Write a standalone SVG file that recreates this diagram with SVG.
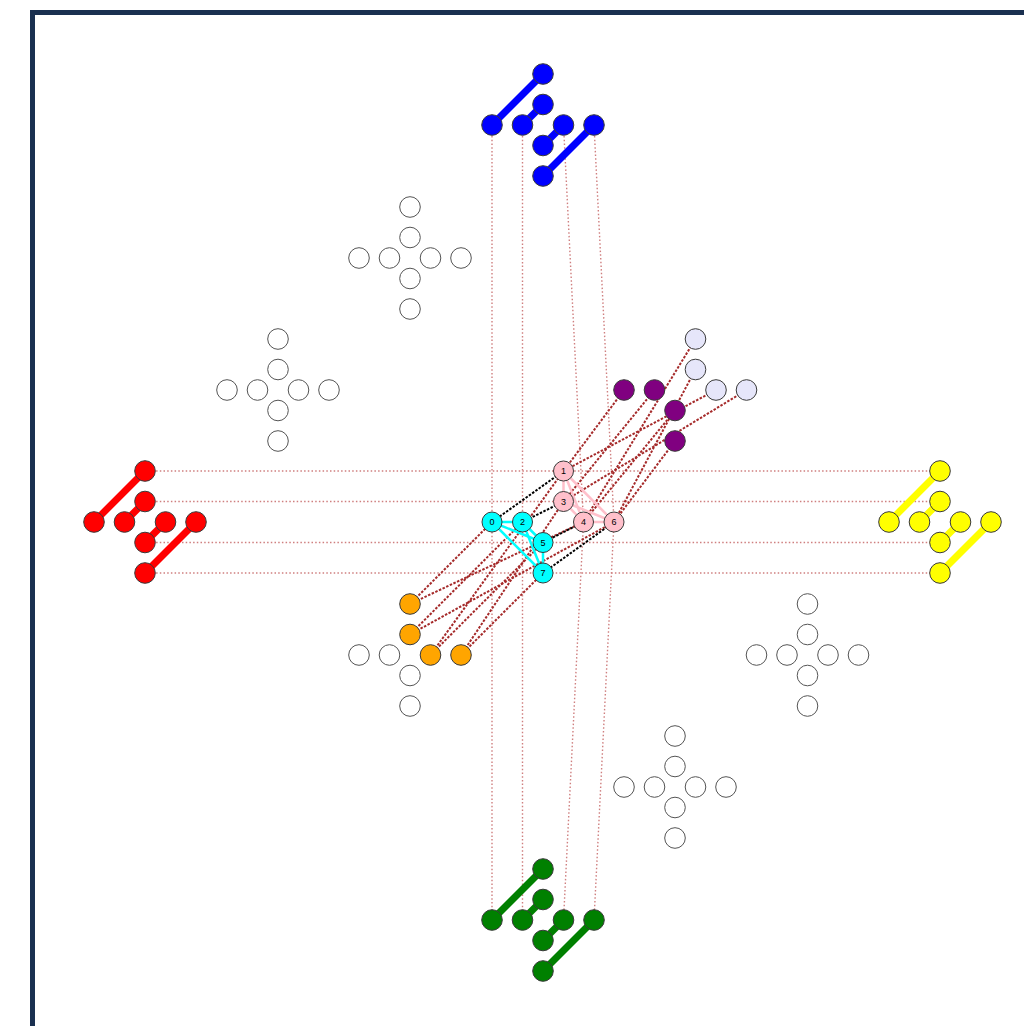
<svg xmlns="http://www.w3.org/2000/svg" width="1024" height="1026" viewBox="0 0 1024 1026">
<style>
.n{stroke:#3a3a3a;stroke-width:1}
.w{fill:#fff;stroke:#555;stroke-width:1}
.th{stroke-width:7}
.lt{stroke:#cf7f7f;stroke-width:1.4;stroke-dasharray:1.5,2.2;fill:none}
.br{stroke:#a52a2a;stroke-width:2;stroke-dasharray:2.5,1.5;fill:none}
.bk{stroke:#000;stroke-width:2;stroke-dasharray:2.5,1.5}
.cy{stroke:#00ffff;stroke-width:2.5}
.pk{stroke:#ffc0cb;stroke-width:2.5}
.lb{font-family:"Liberation Sans",Arial,sans-serif;font-size:9px;fill:#000;text-anchor:middle;dominant-baseline:central}
</style>
<rect x="0" y="0" width="1024" height="1026" fill="#fff"/>
<rect x="32.5" y="12.5" width="1100" height="1100" fill="none" stroke="#1a3050" stroke-width="5"/>
<g id="connectors">
  <polyline class="lt" points="492,125 492,522 492,920"/>
  <polyline class="lt" points="522.5,125 522.5,522 522.5,920"/>
  <polyline class="lt" points="563.5,125 583.5,522 563.5,920"/>
  <polyline class="lt" points="594,125 614,522 594,920"/>
  <polyline class="lt" points="145,471 563.5,471 940,471"/>
  <polyline class="lt" points="145,501.5 563.5,501.5 940,501.5"/>
  <polyline class="lt" points="145,542.5 543,542.5 940,542.5"/>
  <polyline class="lt" points="145,573 543,573 940,573"/>
  <line class="br" x1="624" y1="390" x2="563.5" y2="471"/>
  <line class="br" x1="654.5" y1="390" x2="563.5" y2="501.5"/>
  <line class="br" x1="675" y1="410.5" x2="583.5" y2="522"/>
  <line class="br" x1="675" y1="441" x2="614" y2="522"/>
  <line class="br" x1="695.5" y1="339" x2="583.5" y2="522"/>
  <line class="br" x1="695.5" y1="369.5" x2="614" y2="522"/>
  <line class="br" x1="716" y1="390" x2="563.5" y2="471"/>
  <line class="br" x1="746.5" y1="390" x2="563.5" y2="501.5"/>
  <line class="br" x1="410" y1="604" x2="492" y2="522"/>
  <line class="br" x1="410" y1="604" x2="583.5" y2="522"/>
  <line class="br" x1="410" y1="634.5" x2="522.5" y2="522"/>
  <line class="br" x1="410" y1="634.5" x2="614" y2="522"/>
  <line class="br" x1="430.5" y1="655" x2="543" y2="542.5"/>
  <line class="br" x1="430.5" y1="655" x2="563.5" y2="471"/>
  <line class="br" x1="461" y1="655" x2="543" y2="573"/>
  <line class="br" x1="461" y1="655" x2="563.5" y2="501.5"/>
  <line class="cy" x1="492" y1="522" x2="522.5" y2="522"/>
  <line class="cy" x1="492" y1="522" x2="543" y2="542.5"/>
  <line class="cy" x1="492" y1="522" x2="543" y2="573"/>
  <line class="cy" x1="522.5" y1="522" x2="543" y2="542.5"/>
  <line class="cy" x1="522.5" y1="522" x2="543" y2="573"/>
  <line class="cy" x1="543" y1="542.5" x2="543" y2="573"/>
  <line class="pk" x1="563.5" y1="471" x2="563.5" y2="501.5"/>
  <line class="pk" x1="563.5" y1="471" x2="583.5" y2="522"/>
  <line class="pk" x1="563.5" y1="471" x2="614" y2="522"/>
  <line class="pk" x1="563.5" y1="501.5" x2="583.5" y2="522"/>
  <line class="pk" x1="563.5" y1="501.5" x2="614" y2="522"/>
  <line class="pk" x1="583.5" y1="522" x2="614" y2="522"/>
  <line class="bk" x1="563.5" y1="471" x2="492" y2="522"/>
  <line class="bk" x1="563.5" y1="501.5" x2="522.5" y2="522"/>
  <line class="bk" x1="583.5" y1="522" x2="543" y2="542.5"/>
  <line class="bk" x1="614" y1="522" x2="543" y2="573"/>
  <g class="th" stroke="#0000ff">
    <line x1="543" y1="74" x2="492" y2="125"/><line x1="543" y1="104.5" x2="522.5" y2="125"/>
    <line x1="563.5" y1="125" x2="543" y2="145.5"/><line x1="594" y1="125" x2="543" y2="176"/>
  </g>
  <g class="th" stroke="#008000">
    <line x1="543" y1="869" x2="492" y2="920"/><line x1="543" y1="899.5" x2="522.5" y2="920"/>
    <line x1="563.5" y1="920" x2="543" y2="940.5"/><line x1="594" y1="920" x2="543" y2="971"/>
  </g>
  <g class="th" stroke="#ff0000">
    <line x1="145" y1="471" x2="94" y2="522"/><line x1="145" y1="501.5" x2="124.5" y2="522"/>
    <line x1="165.5" y1="522" x2="145" y2="542.5"/><line x1="196" y1="522" x2="145" y2="573"/>
  </g>
  <g class="th" stroke="#ffff00">
    <line x1="940" y1="471" x2="889" y2="522"/><line x1="940" y1="501.5" x2="919.5" y2="522"/>
    <line x1="960.5" y1="522" x2="940" y2="542.5"/><line x1="991" y1="522" x2="940" y2="573"/>
  </g>
</g>
<g id="blue" class="n" fill="#0000ff">
  <circle cx="543" cy="74" r="10.3"/><circle cx="543" cy="104.5" r="10.3"/><circle cx="492" cy="125" r="10.3"/><circle cx="522.5" cy="125" r="10.3"/>
  <circle cx="563.5" cy="125" r="10.3"/><circle cx="594" cy="125" r="10.3"/><circle cx="543" cy="145.5" r="10.3"/><circle cx="543" cy="176" r="10.3"/>
</g>
<g id="green" class="n" fill="#008000">
  <circle cx="543" cy="869" r="10.3"/><circle cx="543" cy="899.5" r="10.3"/><circle cx="492" cy="920" r="10.3"/><circle cx="522.5" cy="920" r="10.3"/>
  <circle cx="563.5" cy="920" r="10.3"/><circle cx="594" cy="920" r="10.3"/><circle cx="543" cy="940.5" r="10.3"/><circle cx="543" cy="971" r="10.3"/>
</g>
<g id="red" class="n" fill="#ff0000">
  <circle cx="145" cy="471" r="10.3"/><circle cx="145" cy="501.5" r="10.3"/><circle cx="94" cy="522" r="10.3"/><circle cx="124.5" cy="522" r="10.3"/>
  <circle cx="165.5" cy="522" r="10.3"/><circle cx="196" cy="522" r="10.3"/><circle cx="145" cy="542.5" r="10.3"/><circle cx="145" cy="573" r="10.3"/>
</g>
<g id="yellow" class="n" fill="#ffff00">
  <circle cx="940" cy="471" r="10.3"/><circle cx="940" cy="501.5" r="10.3"/><circle cx="889" cy="522" r="10.3"/><circle cx="919.5" cy="522" r="10.3"/>
  <circle cx="960.5" cy="522" r="10.3"/><circle cx="991" cy="522" r="10.3"/><circle cx="940" cy="542.5" r="10.3"/><circle cx="940" cy="573" r="10.3"/>
</g>
<g id="white-a" class="w">
  <circle cx="410" cy="207" r="10.3"/><circle cx="410" cy="237.5" r="10.3"/><circle cx="359" cy="258" r="10.3"/><circle cx="389.5" cy="258" r="10.3"/>
  <circle cx="430.5" cy="258" r="10.3"/><circle cx="461" cy="258" r="10.3"/><circle cx="410" cy="278.5" r="10.3"/><circle cx="410" cy="309" r="10.3"/>
</g>
<g id="white-b" class="w">
  <circle cx="278" cy="339" r="10.3"/><circle cx="278" cy="369.5" r="10.3"/><circle cx="227" cy="390" r="10.3"/><circle cx="257.5" cy="390" r="10.3"/>
  <circle cx="298.5" cy="390" r="10.3"/><circle cx="329" cy="390" r="10.3"/><circle cx="278" cy="410.5" r="10.3"/><circle cx="278" cy="441" r="10.3"/>
</g>
<g id="white-c" class="w">
  <circle cx="807.5" cy="604" r="10.3"/><circle cx="807.5" cy="634.5" r="10.3"/><circle cx="756.5" cy="655" r="10.3"/><circle cx="787" cy="655" r="10.3"/>
  <circle cx="828" cy="655" r="10.3"/><circle cx="858.5" cy="655" r="10.3"/><circle cx="807.5" cy="675.5" r="10.3"/><circle cx="807.5" cy="706" r="10.3"/>
</g>
<g id="white-d" class="w">
  <circle cx="675" cy="736" r="10.3"/><circle cx="675" cy="766.5" r="10.3"/><circle cx="624" cy="787" r="10.3"/><circle cx="654.5" cy="787" r="10.3"/>
  <circle cx="695.5" cy="787" r="10.3"/><circle cx="726" cy="787" r="10.3"/><circle cx="675" cy="807.5" r="10.3"/><circle cx="675" cy="838" r="10.3"/>
</g>
<g id="bottom-left">
  <circle class="w" cx="359" cy="655" r="10.3"/><circle class="w" cx="389.5" cy="655" r="10.3"/>
  <circle class="w" cx="410" cy="675.5" r="10.3"/><circle class="w" cx="410" cy="706" r="10.3"/>
  <g class="n" fill="#ffa500">
    <circle cx="410" cy="604" r="10.3"/><circle cx="410" cy="634.5" r="10.3"/><circle cx="430.5" cy="655" r="10.3"/><circle cx="461" cy="655" r="10.3"/>
  </g>
</g>
<g id="top-right">
  <g class="n" fill="#800080">
    <circle cx="624" cy="390" r="10.3"/><circle cx="654.5" cy="390" r="10.3"/><circle cx="675" cy="410.5" r="10.3"/><circle cx="675" cy="441" r="10.3"/>
  </g>
  <g class="n" fill="#e6e6fa">
    <circle cx="695.5" cy="339" r="10.3"/><circle cx="695.5" cy="369.5" r="10.3"/><circle cx="716" cy="390" r="10.3"/><circle cx="746.5" cy="390" r="10.3"/>
  </g>
</g>
<g id="center">
  <g id="c0"><circle class="n" fill="#00ffff" cx="492" cy="522" r="10"/><text class="lb" x="492" y="522">0</text></g>
  <g id="c2"><circle class="n" fill="#00ffff" cx="522.5" cy="522" r="10"/><text class="lb" x="522.5" y="522">2</text></g>
  <g id="c5"><circle class="n" fill="#00ffff" cx="543" cy="542.5" r="10"/><text class="lb" x="543" y="542.5">5</text></g>
  <g id="c7"><circle class="n" fill="#00ffff" cx="543" cy="573" r="10"/><text class="lb" x="543" y="573">7</text></g>
  <g id="c1"><circle class="n" fill="#ffc0cb" cx="563.5" cy="471" r="10"/><text class="lb" x="563.5" y="471">1</text></g>
  <g id="c3"><circle class="n" fill="#ffc0cb" cx="563.5" cy="501.5" r="10"/><text class="lb" x="563.5" y="501.5">3</text></g>
  <g id="c4"><circle class="n" fill="#ffc0cb" cx="583.5" cy="522" r="10"/><text class="lb" x="583.5" y="522">4</text></g>
  <g id="c6"><circle class="n" fill="#ffc0cb" cx="614" cy="522" r="10"/><text class="lb" x="614" y="522">6</text></g>
</g>
</svg>
